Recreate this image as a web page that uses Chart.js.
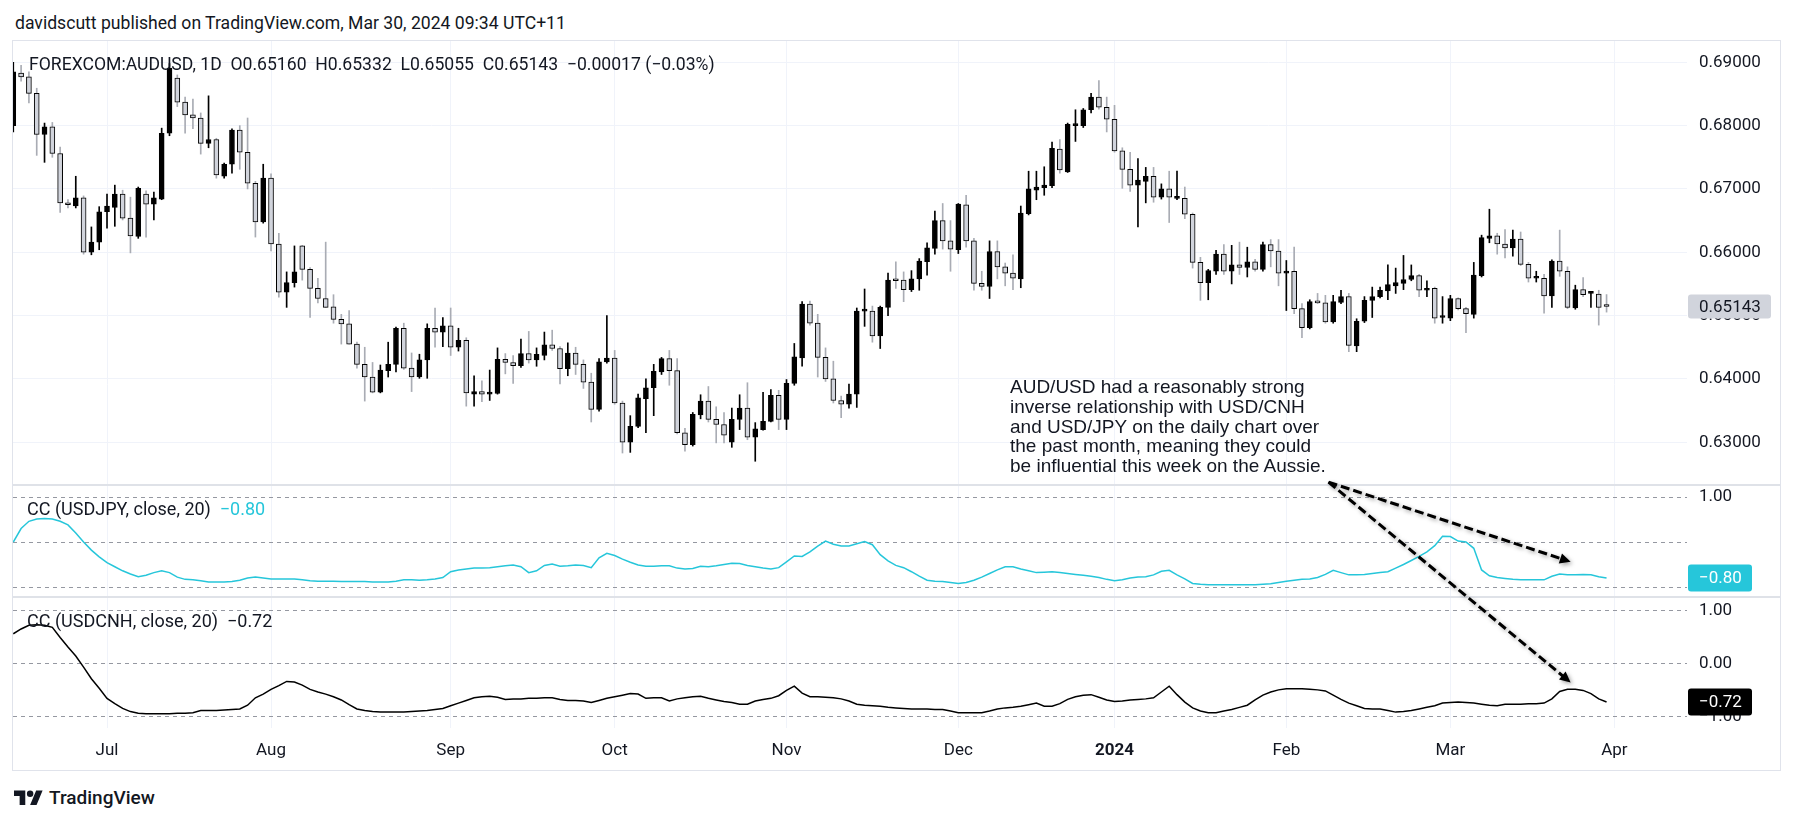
<!DOCTYPE html>
<html>
<head>
<meta charset="utf-8">
<title>FOREXCOM:AUDUSD 1D</title>
<script src="https://cdn.jsdelivr.net/npm/chart.js@4.4.1/dist/chart.umd.min.js"></script>
<style>
  body { margin: 0; width: 1793px; height: 824px; background: #fff; position: relative; overflow: hidden; font-family: Roboto, sans-serif; color: #131722; }
  .txt { position: absolute; white-space: pre; font-size: 17.6px; line-height: 20px; }
  #frame { position: absolute; left: 12px; top: 40px; width: 1767px; height: 729px; border: 1px solid #e0e3eb; }
  #chart { position: absolute; left: 13px; top: 41px; }
  .note { position: absolute; left: 1010px; top: 377px; font-family: "Liberation Sans", Arial, sans-serif; font-size: 19px; line-height: 19.8px; white-space: pre; color: #131722; }
  .logo { position: absolute; left: 14px; top: 787px; }
</style>
</head>
<body>
<div class="txt" style="left:15px;top:13px">davidscutt published on TradingView.com, Mar 30, 2024 09:34 UTC+11</div>
<div id="frame"></div>
<canvas id="chart" width="1767" height="729"></canvas>
<div class="txt" style="left:29px;top:54px">FOREXCOM:AUDUSD, 1D  O0.65160  H0.65332  L0.65055  C0.65143  −0.00017 (−0.03%)</div>
<div class="txt" style="left:27px;top:499px;font-size:18px">CC (USDJPY, close, 20)  <span style="color:#26c6da">−0.80</span></div>
<div class="txt" style="left:27px;top:611px;font-size:18px">CC (USDCNH, close, 20)  −0.72</div>
<div class="note">AUD/USD had a reasonably strong
inverse relationship with USD/CNH
and USD/JPY on the daily chart over
the past month, meaning they could
be influential this week on the Aussie.</div>
<svg class="logo" width="29" height="23" viewBox="0 0 36 28"><path d="M14 22H7V11H0V4h14v18zM28 22h-8l7.5-18h8L28 22z" fill="#131722"/><circle cx="20" cy="8" r="4" fill="#131722"/></svg>
<div class="txt" style="left:49px;top:788px;font-size:19px;font-weight:500">TradingView</div>
<script>
// trading days shown on the chart, by month
const days = {
  '2023-06': [15,16,19,20,21,22,23,26,27,28,29,30],
  '2023-07': [3,4,5,6,7,10,11,12,13,14,17,18,19,20,21,24,25,26,27,28,31],
  '2023-08': [1,2,3,4,7,8,9,10,11,14,15,16,17,18,21,22,23,24,25,28,29,30,31],
  '2023-09': [1,4,5,6,7,8,11,12,13,14,15,18,19,20,21,22,25,26,27,28,29],
  '2023-10': [2,3,4,5,6,9,10,11,12,13,16,17,18,19,20,23,24,25,26,27,30,31],
  '2023-11': [1,2,3,6,7,8,9,10,13,14,15,16,17,20,21,22,23,24,27,28,29,30],
  '2023-12': [1,4,5,6,7,8,11,12,13,14,15,18,19,20,21,22,26,27,28,29],
  '2024-01': [2,3,4,5,8,9,10,11,12,15,16,17,18,19,22,23,24,25,26,29,30,31],
  '2024-02': [1,2,5,6,7,8,9,12,13,14,15,16,19,20,21,22,23,26,27,28,29],
  '2024-03': [1,4,5,6,7,8,11,12,13,14,15,18,19,20,21,22,25,26,27,28,29]
};

const monthKeys = ['2023-07','2023-08','2023-09','2023-10','2023-11','2023-12','2024-01','2024-02','2024-03','2024-04'];
const monthLabels = ['Jul','Aug','Sep','Oct','Nov','Dec','2024','Feb','Mar','Apr'];

const priceTicks = [0.63, 0.64, 0.65, 0.66, 0.67, 0.68, 0.69];
const ccTicks = [-1, 0, 1];

const open = [
  0.6800,0.6883,0.6877,0.6851,0.6786,0.6798,0.6756,0.6678,0.6673,0.6686,
  0.6600,0.6616,0.6664,0.6671,0.6692,0.6654,0.6625,0.6692,0.6676,0.6684,
  0.6788,0.6875,0.6837,0.6817,0.6812,0.6772,0.6778,0.6720,0.6739,0.6793,
  0.6758,0.6709,0.6648,0.6717,0.6613,0.6537,0.6552,0.6610,0.6573,0.6543,
  0.6527,0.6514,0.6494,0.6487,0.6455,0.6423,0.6403,0.6379,0.6413,0.6423,
  0.6480,0.6417,0.6403,0.6430,0.6480,0.6474,0.6484,0.6450,0.6461,0.6376,
  0.6380,0.6376,0.6377,0.6431,0.6426,0.6421,0.6440,0.6430,0.6437,0.6454,
  0.6448,0.6416,0.6441,0.6423,0.6395,0.6352,0.6427,0.6433,0.6362,0.6300,
  0.6325,0.6369,0.6386,0.6411,0.6432,0.6413,0.6315,0.6296,0.6343,0.6365,
  0.6336,0.6328,0.6300,0.6336,0.6354,0.6308,0.6320,0.6333,0.6374,0.6336,
  0.6393,0.6433,0.6518,0.6488,0.6434,0.6400,0.6366,0.6360,0.6376,0.6507,
  0.6507,0.6468,0.6513,0.6556,0.6556,0.6541,0.6558,0.6585,0.6606,0.6650,
  0.6618,0.6604,0.6675,0.6618,0.6551,0.6546,0.6601,0.6577,0.6567,0.6558,
  0.6661,0.6698,0.6702,0.6705,0.6763,0.6727,0.6800,0.6800,0.6825,0.6845,
  0.6829,0.6810,0.6760,0.6731,0.6706,0.6712,0.6720,0.6687,0.6700,0.6685,
  0.6685,0.6660,0.6584,0.6552,0.6570,0.6597,0.6570,0.6580,0.6576,0.6585,
  0.6573,0.6612,0.6602,0.6567,0.6570,0.6511,0.6481,0.6522,0.6520,0.6490,
  0.6521,0.6530,0.6452,0.6491,0.6524,0.6530,0.6539,0.6547,0.6551,0.6557,
  0.6563,0.6540,0.6543,0.6497,0.6496,0.6527,0.6511,0.6502,0.6563,0.6622,
  0.6626,0.6613,0.6607,0.6621,0.6581,0.6559,0.6559,0.6531,0.6586,0.6570,
  0.6512,0.6541,0.6535,0.6534,0.65160
];
const high = [
  0.6900,0.6895,0.6885,0.6859,0.6804,0.6805,0.6766,0.6683,0.6720,0.6689,
  0.6640,0.6672,0.6692,0.6706,0.6698,0.6687,0.6703,0.6697,0.6695,0.6796,
  0.6898,0.6880,0.6845,0.6842,0.6820,0.6847,0.6780,0.6741,0.6795,0.6800,
  0.6812,0.6712,0.6739,0.6724,0.6630,0.6569,0.6610,0.6611,0.6576,0.6559,
  0.6616,0.6533,0.6502,0.6508,0.6458,0.6450,0.6426,0.6422,0.6458,0.6482,
  0.6488,0.6441,0.6439,0.6487,0.6512,0.6497,0.6512,0.6480,0.6465,0.6405,
  0.6397,0.6414,0.6449,0.6440,0.6437,0.6463,0.6475,0.6449,0.6474,0.6477,
  0.6451,0.6457,0.6450,0.6430,0.6409,0.6432,0.6500,0.6445,0.6365,0.6342,
  0.6376,0.6400,0.6423,0.6434,0.6445,0.6432,0.6322,0.6347,0.6375,0.6388,
  0.6356,0.6347,0.6354,0.6375,0.6394,0.6331,0.6379,0.6383,0.6382,0.6399,
  0.6456,0.6522,0.6523,0.6502,0.6449,0.6428,0.6373,0.6392,0.6512,0.6542,
  0.6515,0.6515,0.6567,0.6585,0.6569,0.6571,0.6590,0.6615,0.6665,0.6677,
  0.6650,0.6677,0.6690,0.6622,0.6570,0.6618,0.6618,0.6583,0.6596,0.6673,
  0.6728,0.6728,0.6735,0.6774,0.6778,0.6804,0.6825,0.6827,0.6851,0.6871,
  0.6845,0.6832,0.6765,0.6758,0.6748,0.6734,0.6734,0.6708,0.6728,0.6728,
  0.6703,0.6662,0.6592,0.6573,0.6603,0.6612,0.6611,0.6616,0.6608,0.6589,
  0.6616,0.6620,0.6620,0.6587,0.6608,0.6519,0.6525,0.6535,0.6532,0.6532,
  0.6540,0.6535,0.6495,0.6530,0.6545,0.6545,0.6580,0.6575,0.6595,0.6580,
  0.6565,0.6555,0.6545,0.6530,0.6532,0.6528,0.6513,0.6584,0.6627,0.6668,
  0.6630,0.6636,0.6635,0.6632,0.6584,0.6570,0.6565,0.6588,0.6635,0.6577,
  0.6548,0.6560,0.6538,0.6540,0.65332
];
const low = [
  0.6790,0.6870,0.6836,0.6753,0.6742,0.6750,0.6663,0.6670,0.6670,0.6597,
  0.6596,0.6604,0.6638,0.6641,0.6651,0.6599,0.6622,0.6624,0.6651,0.6683,
  0.6784,0.6830,0.6788,0.6795,0.6755,0.6765,0.6717,0.6717,0.6725,0.6731,
  0.6700,0.6624,0.6646,0.6602,0.6529,0.6513,0.6545,0.6556,0.6497,0.6520,
  0.6513,0.6488,0.6455,0.6455,0.6417,0.6365,0.6378,0.6378,0.6403,0.6411,
  0.6415,0.6380,0.6401,0.6401,0.6450,0.6451,0.6437,0.6444,0.6357,0.6357,
  0.6364,0.6366,0.6376,0.6408,0.6393,0.6418,0.6425,0.6420,0.6430,0.6445,
  0.6392,0.6405,0.6407,0.6385,0.6332,0.6349,0.6425,0.6360,0.6283,0.6284,
  0.6323,0.6315,0.6342,0.6407,0.6390,0.6313,0.6286,0.6294,0.6337,0.6332,
  0.6299,0.6299,0.6292,0.6320,0.6304,0.6270,0.6319,0.6332,0.6320,0.6320,
  0.6390,0.6420,0.6485,0.6403,0.6396,0.6362,0.6339,0.6354,0.6355,0.6483,
  0.6458,0.6448,0.6500,0.6543,0.6522,0.6538,0.6540,0.6564,0.6597,0.6605,
  0.6570,0.6598,0.6608,0.6540,0.6540,0.6527,0.6558,0.6547,0.6541,0.6544,
  0.6659,0.6683,0.6690,0.6702,0.6725,0.6726,0.6775,0.6797,0.6820,0.6826,
  0.6790,0.6758,0.6701,0.6696,0.6640,0.6678,0.6679,0.6684,0.6647,0.6683,
  0.6653,0.6575,0.6524,0.6525,0.6565,0.6565,0.6550,0.6565,0.6561,0.6570,
  0.6570,0.6577,0.6547,0.6508,0.6503,0.6465,0.6479,0.6519,0.6488,0.6488,
  0.6519,0.6443,0.6443,0.6489,0.6497,0.6528,0.6525,0.6535,0.6541,0.6555,
  0.6530,0.6530,0.6488,0.6488,0.6492,0.6509,0.6473,0.6496,0.6561,0.6615,
  0.6597,0.6591,0.6594,0.6579,0.6553,0.6553,0.6504,0.6513,0.6562,0.6511,
  0.6510,0.6530,0.6513,0.6485,0.65055
];
const close = [
  0.6885,0.6877,0.6851,0.6786,0.6798,0.6756,0.6678,0.6675,0.6686,0.6600,
  0.6616,0.6664,0.6673,0.6692,0.6654,0.6626,0.6701,0.6676,0.6686,0.6788,
  0.6891,0.6837,0.6817,0.6812,0.6772,0.6778,0.6722,0.6739,0.6793,0.6758,
  0.6709,0.6648,0.6717,0.6613,0.6537,0.6552,0.6569,0.6573,0.6543,0.6527,
  0.6513,0.6494,0.6487,0.6455,0.6423,0.6403,0.6379,0.6414,0.6423,0.6480,
  0.6417,0.6403,0.6430,0.6480,0.6474,0.6484,0.6450,0.6461,0.6378,0.6380,
  0.6376,0.6378,0.6431,0.6426,0.6421,0.6440,0.6430,0.6439,0.6454,0.6448,
  0.6416,0.6441,0.6423,0.6395,0.6352,0.6427,0.6433,0.6362,0.6300,0.6325,
  0.6370,0.6386,0.6412,0.6432,0.6413,0.6315,0.6296,0.6344,0.6365,0.6336,
  0.6328,0.6311,0.6336,0.6354,0.6308,0.6321,0.6333,0.6374,0.6336,0.6393,
  0.6435,0.6518,0.6488,0.6434,0.6400,0.6366,0.6360,0.6376,0.6507,0.6508,
  0.6468,0.6513,0.6556,0.6555,0.6541,0.6558,0.6586,0.6607,0.6650,0.6618,
  0.6605,0.6676,0.6618,0.6551,0.6546,0.6601,0.6577,0.6567,0.6559,0.6662,
  0.6700,0.6703,0.6706,0.6764,0.6730,0.6802,0.6802,0.6825,0.6845,0.6829,
  0.6810,0.6760,0.6731,0.6706,0.6714,0.6720,0.6687,0.6700,0.6687,0.6686,
  0.6660,0.6584,0.6552,0.6571,0.6597,0.6570,0.6580,0.6576,0.6585,0.6573,
  0.6612,0.6602,0.6567,0.6570,0.6511,0.6481,0.6522,0.6520,0.6490,0.6522,
  0.6530,0.6453,0.6491,0.6524,0.6530,0.6540,0.6549,0.6552,0.6557,0.6563,
  0.6540,0.6543,0.6496,0.6498,0.6527,0.6511,0.6503,0.6564,0.6623,0.6626,
  0.6613,0.6607,0.6621,0.6581,0.6559,0.6560,0.6531,0.6586,0.6570,0.6513,
  0.6541,0.6533,0.6536,0.6513,0.65143
];

// CC (USDJPY, close, 20)
const ccJpy = [
  0.00,0.30,0.46,0.51,0.52,0.51,0.46,0.38,0.20,0.00,
  -0.18,-0.33,-0.46,-0.55,-0.64,-0.71,-0.77,-0.74,-0.68,-0.64,
  -0.68,-0.78,-0.83,-0.84,-0.86,-0.89,-0.89,-0.89,-0.88,-0.85,
  -0.80,-0.78,-0.80,-0.82,-0.82,-0.82,-0.82,-0.84,-0.86,-0.87,
  -0.87,-0.87,-0.88,-0.88,-0.88,-0.88,-0.89,-0.89,-0.89,-0.87,
  -0.84,-0.84,-0.85,-0.84,-0.82,-0.79,-0.66,-0.62,-0.60,-0.58,
  -0.58,-0.57,-0.55,-0.53,-0.51,-0.55,-0.68,-0.64,-0.52,-0.49,
  -0.54,-0.53,-0.51,-0.52,-0.57,-0.35,-0.25,-0.30,-0.38,-0.45,
  -0.51,-0.54,-0.54,-0.53,-0.53,-0.58,-0.60,-0.59,-0.54,-0.55,
  -0.53,-0.50,-0.47,-0.48,-0.52,-0.55,-0.58,-0.60,-0.57,-0.44,
  -0.31,-0.32,-0.22,-0.09,0.02,-0.05,-0.09,-0.09,-0.04,0.01,
  -0.06,-0.28,-0.42,-0.52,-0.57,-0.66,-0.76,-0.85,-0.87,-0.88,
  -0.90,-0.92,-0.90,-0.85,-0.78,-0.70,-0.62,-0.55,-0.55,-0.60,
  -0.64,-0.68,-0.67,-0.66,-0.68,-0.70,-0.72,-0.74,-0.76,-0.79,
  -0.83,-0.86,-0.84,-0.80,-0.78,-0.77,-0.73,-0.65,-0.63,-0.73,
  -0.82,-0.92,-0.94,-0.95,-0.95,-0.95,-0.95,-0.95,-0.95,-0.95,
  -0.94,-0.93,-0.90,-0.87,-0.85,-0.83,-0.82,-0.79,-0.72,-0.63,
  -0.68,-0.73,-0.73,-0.72,-0.70,-0.68,-0.66,-0.58,-0.50,-0.41,
  -0.32,-0.22,-0.08,0.13,0.12,0.02,0.00,-0.14,-0.62,-0.75,
  -0.79,-0.81,-0.83,-0.84,-0.84,-0.84,-0.84,-0.76,-0.71,-0.73,
  -0.73,-0.72,-0.73,-0.77,-0.80
];
// CC (USDCNH, close, 20)
const ccCnh = [
  0.57,0.66,0.73,0.74,0.73,0.69,0.50,0.32,0.15,-0.06,
  -0.28,-0.46,-0.65,-0.75,-0.84,-0.90,-0.93,-0.94,-0.94,-0.94,
  -0.94,-0.93,-0.93,-0.92,-0.88,-0.88,-0.88,-0.87,-0.86,-0.85,
  -0.78,-0.64,-0.57,-0.48,-0.41,-0.33,-0.34,-0.40,-0.48,-0.53,
  -0.57,-0.62,-0.68,-0.77,-0.85,-0.88,-0.90,-0.91,-0.91,-0.91,
  -0.91,-0.90,-0.89,-0.88,-0.86,-0.84,-0.79,-0.74,-0.69,-0.64,
  -0.62,-0.61,-0.63,-0.67,-0.66,-0.66,-0.65,-0.65,-0.64,-0.64,
  -0.67,-0.69,-0.69,-0.70,-0.73,-0.69,-0.65,-0.62,-0.59,-0.56,
  -0.57,-0.65,-0.64,-0.64,-0.70,-0.66,-0.64,-0.62,-0.61,-0.65,
  -0.68,-0.71,-0.73,-0.76,-0.76,-0.70,-0.67,-0.65,-0.60,-0.50,
  -0.42,-0.55,-0.62,-0.62,-0.63,-0.64,-0.66,-0.70,-0.76,-0.78,
  -0.79,-0.80,-0.82,-0.83,-0.84,-0.85,-0.85,-0.85,-0.86,-0.86,
  -0.89,-0.92,-0.92,-0.92,-0.92,-0.89,-0.85,-0.83,-0.82,-0.80,
  -0.77,-0.74,-0.80,-0.80,-0.75,-0.67,-0.62,-0.59,-0.58,-0.63,
  -0.68,-0.71,-0.70,-0.68,-0.67,-0.66,-0.64,-0.53,-0.42,-0.58,
  -0.72,-0.83,-0.89,-0.92,-0.92,-0.89,-0.86,-0.82,-0.78,-0.68,
  -0.59,-0.53,-0.49,-0.47,-0.47,-0.47,-0.48,-0.49,-0.51,-0.59,
  -0.67,-0.74,-0.79,-0.84,-0.85,-0.85,-0.88,-0.91,-0.90,-0.88,
  -0.85,-0.82,-0.79,-0.74,-0.73,-0.72,-0.73,-0.74,-0.76,-0.78,
  -0.79,-0.76,-0.76,-0.76,-0.75,-0.75,-0.74,-0.66,-0.52,-0.48,
  -0.48,-0.50,-0.56,-0.66,-0.72
];

const dates = [];
Object.keys(days).forEach(m => days[m].forEach(d => dates.push(m + '-' + String(d).padStart(2, '0'))));

// bar index where each month label sits (Apr is the next, empty bar)
const monthIdx = monthKeys.map(m => {
  const i = dates.findIndex(d => d.startsWith(m));
  return i < 0 ? dates.length : i;
});

const up = close.map((c, i) => c >= open[i]);
const bodies = close.map((c, i) => ({ x: i, y: [open[i], c] }));
const wicks = close.map((c, i) => ({ x: i, y: [low[i], high[i]] }));
const jpyPts = ccJpy.map((v, i) => ({ x: i, y: v }));
const cnhPts = ccCnh.map((v, i) => ({ x: i, y: v }));

Chart.defaults.font.family = 'Roboto, sans-serif';
Chart.defaults.font.size = 17;
Chart.defaults.color = '#131722';

const GRID = '#f0f3fa';
const DASH = '#9598a1';

// no extra padding around the scales, so the panes keep their size
function noPad(s) {
  s.paddingTop = 0;
  s.paddingBottom = 0;
  s.paddingLeft = 0;
  s.paddingRight = 0;
}
function fixWidth(s) {
  noPad(s);
  s.width = 93;
}

function drawLast(ctx, scale, value, text, bg, fg, w, h) {
  const y = scale.getPixelForValue(value);
  ctx.fillStyle = bg;
  ctx.beginPath();
  ctx.roundRect(scale.left + 1, y - h / 2, w, h, 3);
  ctx.fill();
  ctx.fillStyle = fg;
  ctx.font = '17px Roboto, sans-serif';
  ctx.textBaseline = 'middle';
  ctx.textAlign = 'left';
  ctx.fillText(text, scale.left + 12, y + 1);
}

function dashedArrow(ctx, x0, y0, x1, y1) {
  const a = Math.atan2(y1 - y0, x1 - x0);
  const head = 12;
  ctx.setLineDash([9, 4]);
  ctx.lineWidth = 3;
  ctx.beginPath();
  ctx.moveTo(x0, y0);
  ctx.lineTo(x1 - Math.cos(a) * head * 0.7, y1 - Math.sin(a) * head * 0.7);
  ctx.stroke();
  ctx.setLineDash([]);
  ctx.beginPath();
  ctx.moveTo(x1, y1);
  ctx.lineTo(x1 - head * Math.cos(a - 0.45), y1 - head * Math.sin(a - 0.45));
  ctx.lineTo(x1 - head * Math.cos(a + 0.45), y1 - head * Math.sin(a + 0.45));
  ctx.closePath();
  ctx.fill();
}

// arrows go from the end of the note to each correlation line
const arrowFrom = { x: 168.4, y: 0.6237 };
const arrowToJpy = { x: 199.4, y: -0.44 };
const arrowToCnh = { x: 199.4, y: -0.35 };

const panes = {
  id: 'panes',
  afterDraw(chart) {
    const { ctx, scales } = chart;
    const { x, y, yJ, yC } = scales;
    ctx.save();
    ctx.strokeStyle = '#dfe2e8';
    ctx.lineWidth = 2;
    [y.bottom, yJ.bottom].forEach(b => {
      ctx.beginPath();
      ctx.moveTo(0, b);
      ctx.lineTo(chart.width, b);
      ctx.stroke();
    });

    drawLast(ctx, y, close[close.length - 1], close[close.length - 1].toFixed(5), '#d1d4dc', '#131722', 83, 24);
    drawLast(ctx, yJ, ccJpy[ccJpy.length - 1], '−' + Math.abs(ccJpy[ccJpy.length - 1]).toFixed(2), '#26c6da', '#ffffff', 64, 27);
    drawLast(ctx, yC, ccCnh[ccCnh.length - 1], '−' + Math.abs(ccCnh[ccCnh.length - 1]).toFixed(2), '#000000', '#ffffff', 64, 27);

    ctx.shadowColor = 'rgba(0,0,0,0.35)';
    ctx.shadowBlur = 4;
    ctx.shadowOffsetX = 2;
    ctx.shadowOffsetY = 2;
    ctx.strokeStyle = '#000';
    ctx.fillStyle = '#000';
    const sx = x.getPixelForValue(arrowFrom.x), sy = y.getPixelForValue(arrowFrom.y);
    dashedArrow(ctx, sx, sy, x.getPixelForValue(arrowToJpy.x), yJ.getPixelForValue(arrowToJpy.y));
    dashedArrow(ctx, sx, sy, x.getPixelForValue(arrowToCnh.x), yC.getPixelForValue(arrowToCnh.y));
    ctx.restore();
  }
};

new Chart(document.getElementById('chart'), {
  type: 'bar',
  data: {
    datasets: [{
      label: 'body',
      data: bodies,
      yAxisID: 'y',
      backgroundColor: up.map(u => u ? '#000000' : '#d1d4dc'),
      borderColor: '#000000',
      borderWidth: 1,
      borderSkipped: false,
      barThickness: 5,
      minBarLength: 2,
      grouped: false,
      clip: 0
    }, {
      label: 'wick',
      data: wicks,
      yAxisID: 'y',
      backgroundColor: up.map(u => u ? '#000000' : '#a9acb4'),
      borderWidth: 0,
      barThickness: 1,
      minBarLength: 1,
      grouped: false,
      clip: 0
    }, {
      type: 'line',
      label: 'CC USDJPY',
      data: jpyPts,
      yAxisID: 'yJ',
      borderColor: '#26c6da',
      borderWidth: 1.5,
      pointRadius: 0,
      tension: 0
    }, {
      type: 'line',
      label: 'CC USDCNH',
      data: cnhPts,
      yAxisID: 'yC',
      borderColor: '#000000',
      borderWidth: 1.5,
      pointRadius: 0,
      tension: 0
    }]
  },
  options: {
    responsive: false,
    animation: false,
    events: [],
    layout: { padding: 0 },
    plugins: { legend: { display: false }, tooltip: { enabled: false } },
    scales: {
      x: {
        type: 'linear',
        min: -0.037,
        max: 214.3,
        offset: false,
        grid: { color: GRID, drawTicks: false, offset: false },
        border: { display: false },
        afterBuildTicks: s => { s.ticks = monthIdx.map(v => ({ value: v })); },
        afterFit: s => { noPad(s); s.height = 42; },
        ticks: {
          autoSkip: false,
          maxRotation: 0,
          padding: 13,
          font: c => ({ size: 17, weight: c.tick && c.tick.value === monthIdx[6] ? 'bold' : 'normal' }),
          callback: v => monthLabels[monthIdx.indexOf(v)]
        }
      },
      y: {
        type: 'linear',
        position: 'right',
        stack: 'panes',
        stackWeight: 444,
        min: 0.62325,
        max: 0.69336,
        grid: { color: GRID, drawTicks: false },
        border: { display: false },
        afterBuildTicks: s => { s.ticks = priceTicks.map(v => ({ value: v })); },
        afterFit: fixWidth,
        ticks: { padding: 12, callback: v => v.toFixed(5) }
      },
      yJ: {
        type: 'linear',
        position: 'right',
        stack: 'panes',
        stackWeight: 112,
        min: -1.222,
        max: 1.267,
        grid: { color: DASH, drawTicks: false },
        border: { display: false, dash: [4, 4] },
        afterBuildTicks: s => { s.ticks = ccTicks.map(v => ({ value: v })); },
        afterFit: fixWidth,
        ticks: { padding: 12, callback: v => v === 0 ? '' : (v < 0 ? '−' : '') + Math.abs(v).toFixed(2) }
      },
      yC: {
        type: 'linear',
        position: 'right',
        stack: 'panes',
        stackWeight: 131,
        min: -1.21,
        max: 1.264,
        grid: { color: DASH, drawTicks: false },
        border: { display: false, dash: [4, 4] },
        afterBuildTicks: s => { s.ticks = ccTicks.map(v => ({ value: v })); },
        afterFit: fixWidth,
        ticks: { padding: 12, callback: v => (v < 0 ? '−' : '') + Math.abs(v).toFixed(2) }
      }
    }
  },
  plugins: [panes]
});
</script>
</body>
</html>
